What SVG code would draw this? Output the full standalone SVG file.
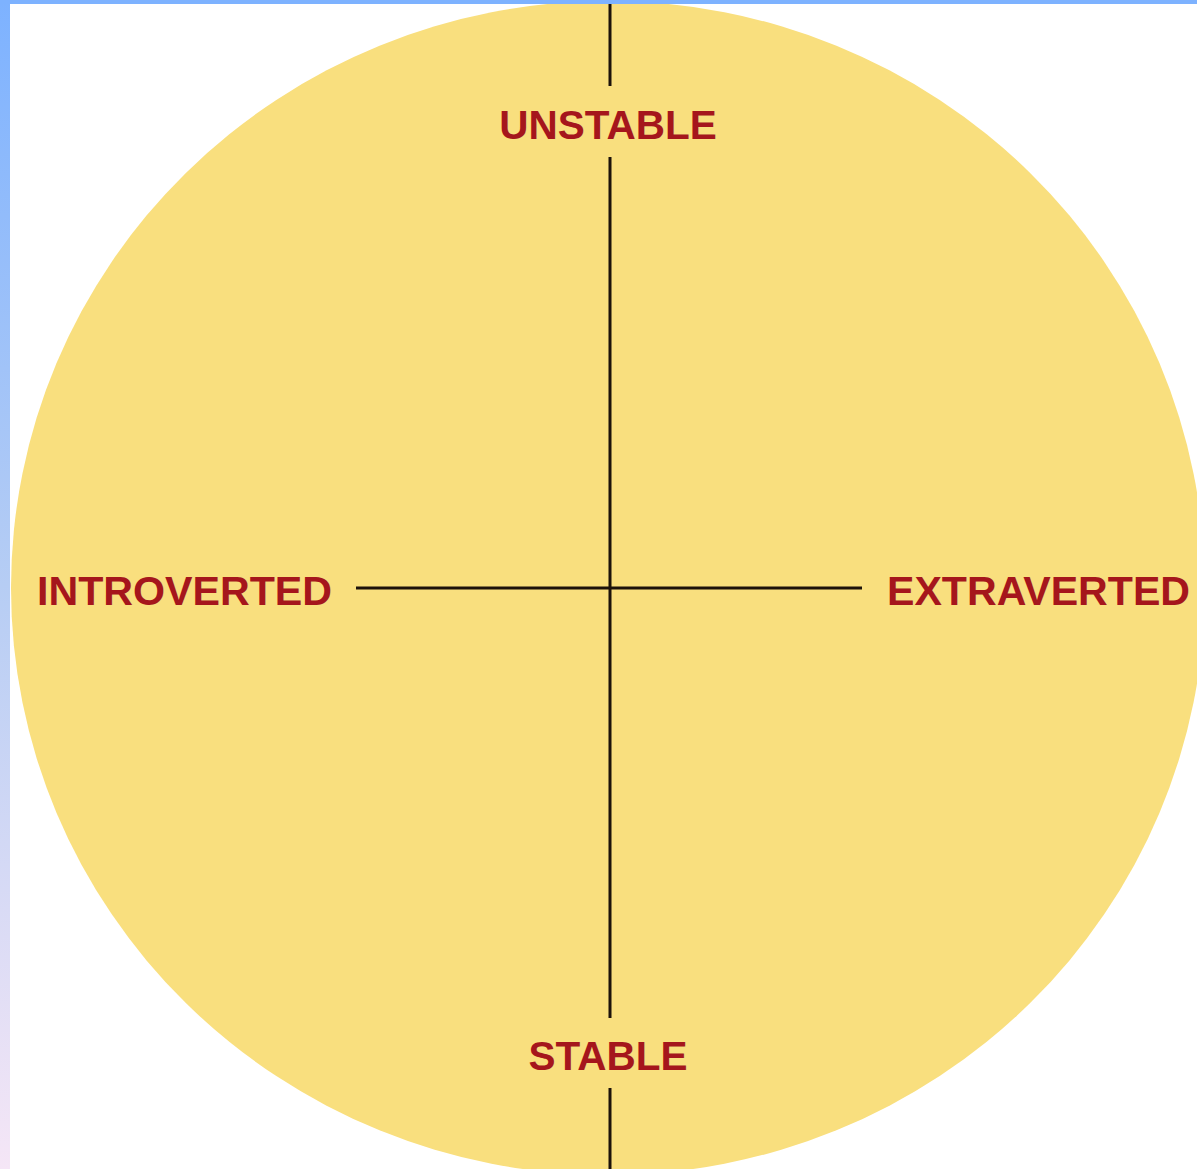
<svg xmlns="http://www.w3.org/2000/svg" width="1197" height="1169" viewBox="0 0 1197 1169">
  <defs>
    <linearGradient id="side" x1="0" y1="0" x2="0" y2="1">
      <stop offset="0" stop-color="#7db2ff"/>
      <stop offset="0.5" stop-color="#b6cdf4"/>
      <stop offset="1" stop-color="#f5e6f6"/>
    </linearGradient>
  </defs>
  <style>
    .axis { stroke: #1c120a; stroke-width: 3; fill: none; }
    .lbl { font-family: "Liberation Sans", Arial, sans-serif; font-weight: bold; font-size: 40.5px; fill: #a5161c; }
  </style>
  <rect x="0" y="0" width="1197" height="1169" fill="#ffffff"/>
  <ellipse id="circle" cx="608" cy="588" rx="597" ry="587" fill="#f9df7e"/>
  <rect x="0" y="0" width="10" height="1169" fill="url(#side)"/>
  <rect x="0" y="0" width="1197" height="4" fill="#7db2ff"/>
  <g id="connectors">
    <line class="axis" x1="610" y1="4" x2="610" y2="86"/>
    <line class="axis" x1="610" y1="157" x2="610" y2="1018"/>
    <line class="axis" x1="610" y1="1088" x2="610" y2="1169"/>
    <line class="axis" x1="356" y1="588" x2="862" y2="588"/>
  </g>
  <g id="unstable"><text class="lbl" x="608" y="139" text-anchor="middle">UNSTABLE</text></g>
  <g id="stable"><text class="lbl" x="608" y="1070" text-anchor="middle">STABLE</text></g>
  <g id="introverted"><text class="lbl" x="37" y="605" textLength="295" lengthAdjust="spacingAndGlyphs">INTROVERTED</text></g>
  <g id="extraverted"><text class="lbl" x="887" y="605" textLength="303" lengthAdjust="spacingAndGlyphs">EXTRAVERTED</text></g>
</svg>
